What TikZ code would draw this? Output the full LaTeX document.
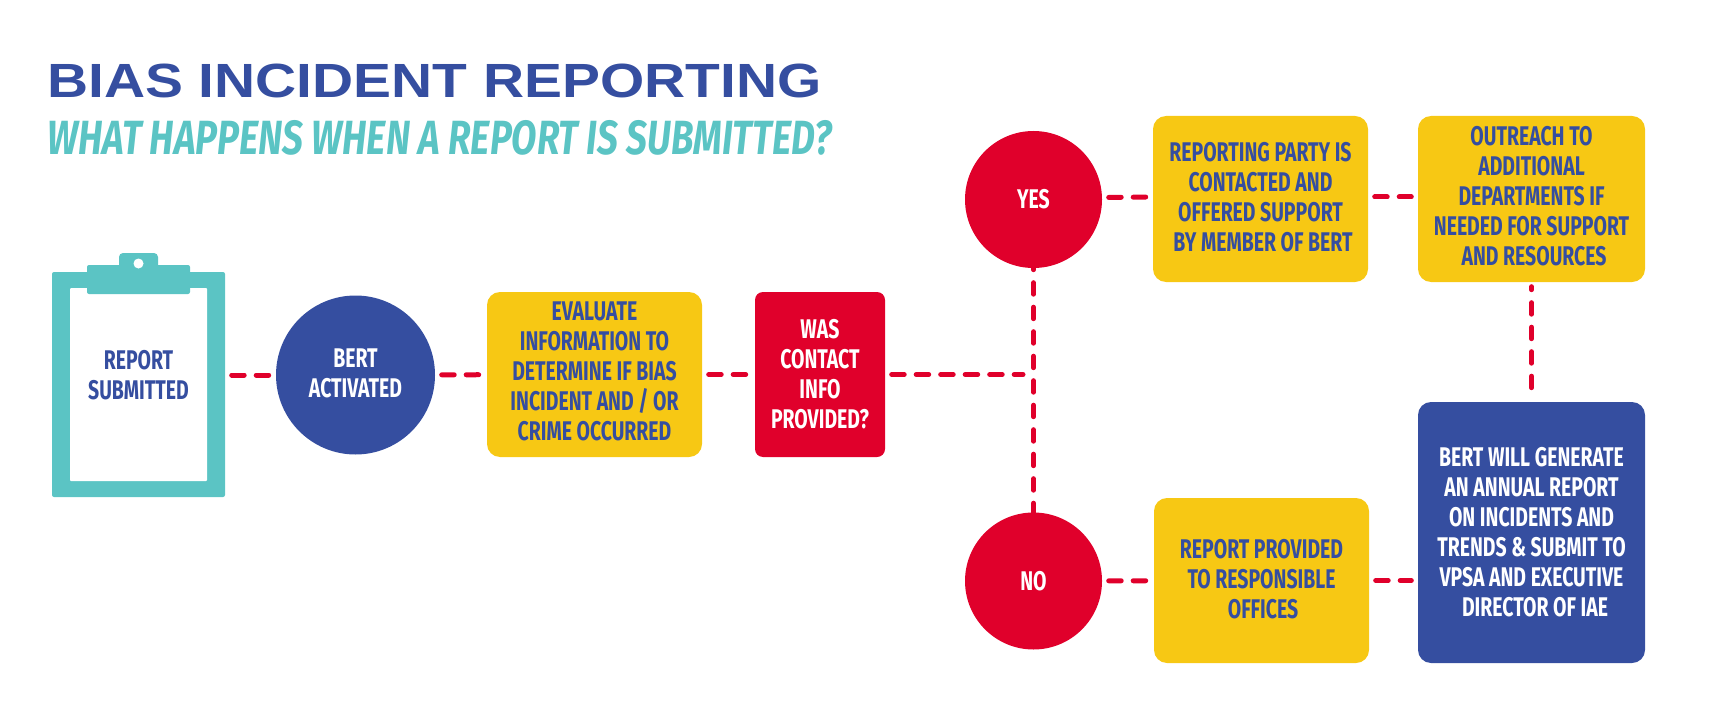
\documentclass[tikz,border=0pt]{standalone}
\usepackage{fontspec}
\usepackage{tikz}
\usetikzlibrary{positioning}
\setmainfont{Fira Sans}
\newfontfamily\titlefont[FakeStretch=1.185]{Liberation Sans}
\newfontfamily\subfont[FakeStretch=.77]{Fira Sans}
\newfontfamily\boxfont[FakeStretch=.72]{Fira Sans}
\definecolor{bertblue}{HTML}{354EA0}
\definecolor{bertteal}{HTML}{5BC4C4}
\definecolor{bertyellow}{HTML}{F7C814}
\definecolor{bertred}{HTML}{E0002B}
\tikzset{
  lbl/.style={align=center,font=\boxfont\fontsize{27}{30}\selectfont\bfseries},
  bluelbl/.style={lbl,text=bertblue},
  whitelbl/.style={lbl,text=white},
  ybox/.style={bluelbl,fill=bertyellow,rounded corners=13pt,inner sep=0pt},
  bbox/.style={whitelbl,fill=bertblue,rounded corners=13pt,inner sep=0pt},
  rbox/.style={whitelbl,fill=bertred,rounded corners=8pt,inner sep=0pt},
  disc/.style={circle,inner sep=0pt},
  link/.style={draw=bertred,line width=5pt,line cap=round,dash pattern=on 12.5pt off 12pt,shorten <=6.5pt,shorten >=6.5pt},
  vlink/.style={link,dash pattern=on 11.5pt off 13pt,dash phase=10pt},
  clippart/.style={fill=bertteal,rounded corners=2pt,inner sep=0pt}
}
\begin{document}
\begin{tikzpicture}[x=1pt,y=-1pt]
\useasboundingbox (0,0) rectangle (1723,714);
% heading
\node[anchor=base west,inner sep=0pt,text=bertblue,font=\titlefont\fontsize{48}{48}\selectfont\bfseries] (title) at (47,98) {BIAS INCIDENT REPORTING};
\node[anchor=base west,inner sep=0pt,text=bertteal,font=\subfont\fontsize{48}{48}\selectfont\bfseries\itshape] (subtitle) at (47,155) {WHAT HAPPENS WHEN A REPORT IS SUBMITTED?};
% clipboard
\node[clippart,minimum width=173pt,minimum height=225pt] (board) at (138.5,384.5) {};
\node[fill=white,rounded corners=1pt,minimum width=137pt,minimum height=193pt,inner sep=0pt] (sheet) at (138.5,384.5) {};
\node[clippart,minimum width=103pt,minimum height=29pt] (clipbar) at (138.5,279.5) {};
\node[clippart,rounded corners=4pt,minimum width=39pt,minimum height=24pt] (cliptab) at (138.5,265) {};
\node[disc,fill=white,minimum size=10pt] (cliphole) at (138.5,263.5) {};
\node[bluelbl] (report) at (138.5,375) {REPORT\\SUBMITTED};
% main row
\node[disc,fill=bertblue,minimum size=159pt,whitelbl,text depth=4pt] (bert) at (355.5,375) {BERT\\ACTIVATED};
\node[ybox,minimum width=215pt,minimum height=165pt,text depth=6pt] (evaluate) at (594.5,374.5) {EVALUATE\\INFORMATION TO\\DETERMINE IF BIAS\\INCIDENT AND / OR\\CRIME OCCURRED};
\node[rbox,minimum width=130pt,minimum height=165pt,text depth=2pt] (contact) at (820,374.5) {WAS\\CONTACT\\INFO\\PROVIDED?};
% outcomes
\node[disc,fill=bertred,minimum size=137pt,whitelbl,text depth=2pt] (yes) at (1033.5,199.5) {YES};
\node[disc,fill=bertred,minimum size=137pt,whitelbl] (no) at (1033.5,581) {NO};
\coordinate (split) at (1033.5,374.5);
\node[ybox,minimum width=215pt,minimum height=166pt,text depth=4pt] (party) at (1260.5,199) {REPORTING PARTY IS\\CONTACTED AND\\OFFERED SUPPORT\\\hspace*{5pt}BY MEMBER OF BERT};
\node[ybox,minimum width=227pt,minimum height=166pt,text depth=6pt] (outreach) at (1531.5,199) {OUTREACH TO\\ADDITIONAL\\DEPARTMENTS IF\\NEEDED FOR SUPPORT\\\hspace*{5pt}AND RESOURCES};
\node[ybox,minimum width=215pt,minimum height=165pt,text depth=4pt] (offices) at (1261.5,580.5) {REPORT PROVIDED\\TO RESPONSIBLE\\\hspace*{3pt}OFFICES};
\node[bbox,minimum width=227pt,minimum height=261pt] (annual) at (1531.5,532.5) {BERT WILL GENERATE\\AN ANNUAL REPORT\\ON INCIDENTS AND\\TRENDS \& SUBMIT TO\\VPSA AND EXECUTIVE\\\hspace*{7pt}DIRECTOR OF IAE};
% connectors
\draw[link] (board.east |- report) -- (report -| bert.west);
\draw[link] (bert) -- (evaluate);
\draw[link] (evaluate) -- (contact);
\draw[link,shorten >=10.5pt] (contact) -- (split);
\draw[vlink,shorten <=0pt,shorten >=0pt] (yes) -- (no);
\draw[link] ([yshift=2pt]yes.east) -- ([yshift=2pt]party.west);
\draw[link] ([yshift=2pt]party.east) -- ([yshift=2pt]outreach.west);
\draw[vlink,dash phase=8.5pt,shorten <=4.5pt] (outreach) -- (outreach |- annual.north);
\draw[link] (no) -- (offices);
\draw[link] (offices) -- (offices -| annual.west);
\end{tikzpicture}
\end{document}
